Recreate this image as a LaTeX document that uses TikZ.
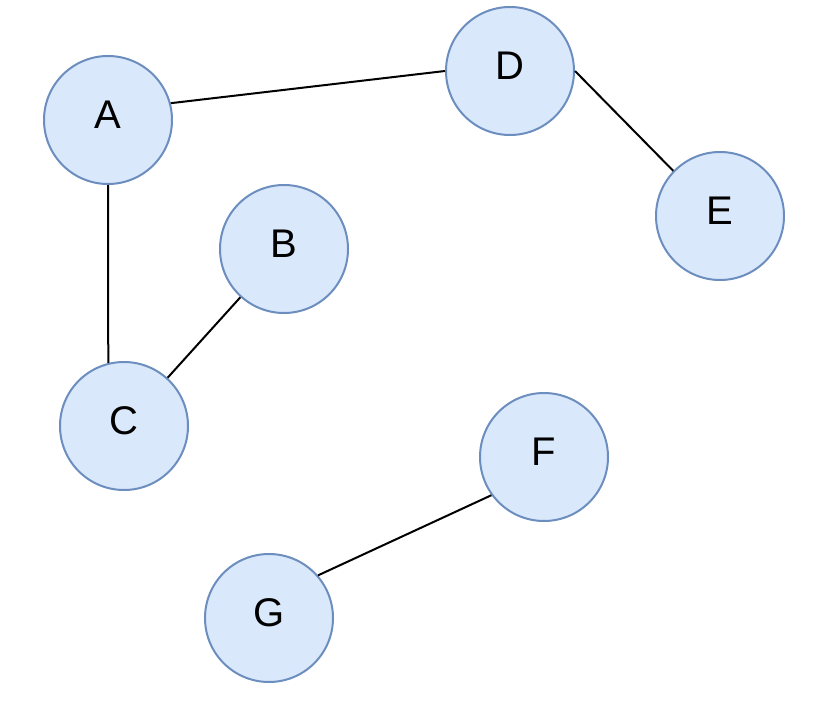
\documentclass[tikz,border=0pt]{standalone}
\usepackage{fontspec}
\setmainfont{Liberation Sans}
\definecolor{nodefill}{HTML}{DAE8FC}
\definecolor{nodeline}{HTML}{6C8EBF}
\begin{document}
\begin{tikzpicture}[x=1pt,y=-1pt,
  vertex/.style={circle, draw=nodeline, fill=nodefill, line width=2pt,
    minimum size=128pt, inner sep=0pt, text depth=10pt,
    font=\fontsize{40}{46}\selectfont},
  edge/.style={draw=black, line width=2pt}]
\useasboundingbox (0,0) rectangle (830,706);
\node[vertex] (A) at (108,120) {A};
\node[vertex] (D) at (510,71) {D};
\node[vertex] (E) at (720,216) {E};
\node[vertex] (B) at (284,249) {B};
\node[vertex] (C) at (124,426) {C};
\node[vertex] (F) at (544,457) {F};
\node[vertex] (G) at (269,618) {G};
\draw[edge] (A.15) -- (D.west);
\draw[edge] (D.east) -- (E.136);
\draw[edge] (A.south) -- (C.104);
\draw[edge] (B) -- (C);
\draw[edge] (F.216) -- (G.41);
\end{tikzpicture}
\end{document}
